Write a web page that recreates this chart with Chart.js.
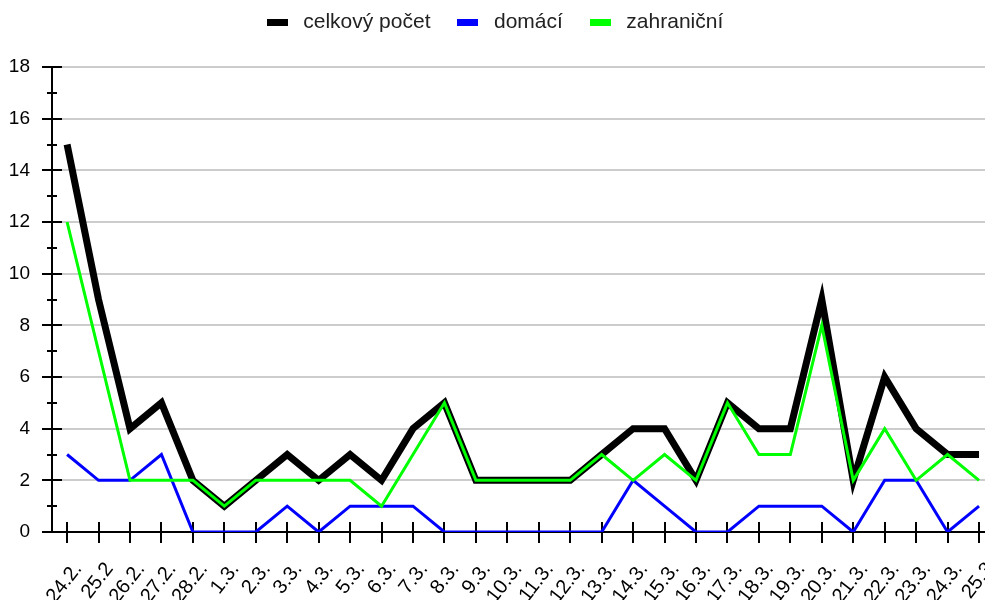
<!DOCTYPE html>
<html>
<head>
<meta charset="utf-8">
<script src="https://cdn.jsdelivr.net/npm/chart.js@4"></script>
<style>
  html, body { margin: 0; padding: 0; background: #fff; }
  #wrap { width: 985px; height: 600px; position: relative; }
</style>
</head>
<body>
<div id="wrap"><canvas id="myChart"></canvas></div>
<script>
let labels = ['24.2.', '25.2', '26.2.', '27.2.', '28.2.', '1.3.', '2.3.', '3.3.', '4.3.', '5.3.',
  '6.3.', '7.3.', '8.3.', '9.3.', '10.3.', '11.3.', '12.3.', '13.3.', '14.3.', '15.3.',
  '16.3.', '17.3.', '18.3.', '19.3.', '20.3.', '21.3.', '22.3.', '23.3.', '24.3.', '25.3'];
let celkem = [15, 9, 4, 5, 2, 1, 2, 3, 2, 3, 2, 4, 5, 2, 2, 2, 2, 3, 4, 4, 2, 5, 4, 4, 9, 2, 6, 4, 3, 3];
let domaci = [3, 2, 2, 3, 0, 0, 0, 1, 0, 1, 1, 1, 0, 0, 0, 0, 0, 0, 2, 1, 0, 0, 1, 1, 1, 0, 2, 2, 0, 1];
let zahranicni = [12, 7, 2, 2, 2, 1, 2, 2, 2, 2, 1, 3, 5, 2, 2, 2, 2, 3, 2, 3, 2, 5, 3, 3, 8, 2, 4, 2, 3, 2];
let names = ['celkový počet', 'domácí', 'zahraniční'];
let colors = ['#000000', '#0000ff', '#00ff00'];

let toPoints = (arr) => arr.map((v, i) => ({ x: i, y: v }));

// small flat bar used as legend marker
let legendBar = (color) => {
  let c = document.createElement('canvas');
  c.width = 21;
  c.height = 7;
  let g = c.getContext('2d');
  g.fillStyle = color;
  g.fillRect(0, 0, 21, 7);
  return c;
};

// tick marks crossing the axes (major + minor)
let axisTicks = {
  id: 'axisTicks',
  beforeDatasetsDraw(chart) {
    let ctx = chart.ctx;
    let x = chart.scales.x, y = chart.scales.y;
    ctx.save();
    ctx.strokeStyle = '#000';
    ctx.lineWidth = 2;
    ctx.beginPath();
    labels.forEach((l, i) => {
      let px = Math.round(x.getPixelForValue(i));
      ctx.moveTo(px, y.bottom - 10);
      ctx.lineTo(px, y.bottom + 11);
    });
    for (let v = 0; v <= 18; v++) {
      let py = Math.round(y.getPixelForValue(v));
      let len = v % 2 ? 5 : 10;
      ctx.moveTo(x.left - len, py);
      ctx.lineTo(x.left + len, py);
    }
    ctx.stroke();
    ctx.restore();
  }
};

// extra room below the legend
let legendGap = {
  id: 'legendGap',
  beforeInit(chart) {
    let fit = chart.legend.fit;
    chart.legend.fit = function () {
      fit.bind(chart.legend)();
      this.height += 24;
    };
  }
};

let ctx = document.getElementById('myChart').getContext('2d');
let myChart = new Chart(ctx, {
  type: 'line',
  data: {
    datasets: [
      { label: names[0], data: toPoints(celkem), borderColor: colors[0], backgroundColor: colors[0], borderWidth: 7, order: 3 },
      { label: names[1], data: toPoints(domaci), borderColor: colors[1], backgroundColor: colors[1], borderWidth: 3, order: 2 },
      { label: names[2], data: toPoints(zahranicni), borderColor: colors[2], backgroundColor: colors[2], borderWidth: 3, order: 1 }
    ]
  },
  options: {
    responsive: true,
    maintainAspectRatio: false,
    animation: false,
    layout: { padding: { top: -10, right: 0, left: 0, bottom: 0 } },
    elements: {
      point: { radius: 0, hoverRadius: 0 },
      line: { tension: 0, borderJoinStyle: 'miter' }
    },
    plugins: {
      tooltip: { enabled: false },
      legend: {
        position: 'top',
        labels: {
          color: '#222',
          font: { family: 'Liberation Sans', size: 21 },
          usePointStyle: true,
          pointStyleWidth: 31,
          boxHeight: 7,
          padding: 22,
          sort: (a, b) => a.datasetIndex - b.datasetIndex,
          generateLabels: (chart) => Chart.defaults.plugins.legend.labels.generateLabels(chart)
            .map(l => Object.assign(l, { lineWidth: 0, pointStyle: legendBar(colors[l.datasetIndex]) }))
        }
      }
    },
    scales: {
      x: {
        type: 'linear',
        min: -0.48,
        max: 29.19,
        afterBuildTicks: (axis) => {
          axis.ticks = axis.ticks.filter(t => Number.isInteger(t.value));
        },
        afterFit: (axis) => {
          axis.height = 68;
          axis.paddingLeft = 0;
          axis.paddingRight = 0;
        },
        grid: { display: false, drawTicks: false },
        border: { color: '#000', width: 2 },
        ticks: {
          stepSize: 1,
          includeBounds: false,
          autoSkip: false,
          minRotation: 52,
          maxRotation: 52,
          padding: 26,
          labelOffset: 11,
          color: '#000',
          font: { family: 'Liberation Sans', size: 20 },
          callback: (v) => labels[v] !== undefined ? labels[v] : ''
        }
      },
      y: {
        min: 0,
        max: 18,
        afterFit: (axis) => { axis.width = 52; },
        grid: {
          drawTicks: false,
          color: (c) => (c.tick && c.tick.value % 2 === 0 && c.tick.value > 0) ? '#cccccc' : 'rgba(0,0,0,0)',
          lineWidth: 2
        },
        border: { color: '#000', width: 2 },
        ticks: {
          stepSize: 1,
          autoSkip: false,
          padding: 22,
          color: '#000',
          font: { family: 'Liberation Sans', size: 19 },
          callback: (v) => v % 2 === 0 ? v : ''
        }
      }
    }
  },
  plugins: [axisTicks, legendGap]
});
</script>
</body>
</html>
